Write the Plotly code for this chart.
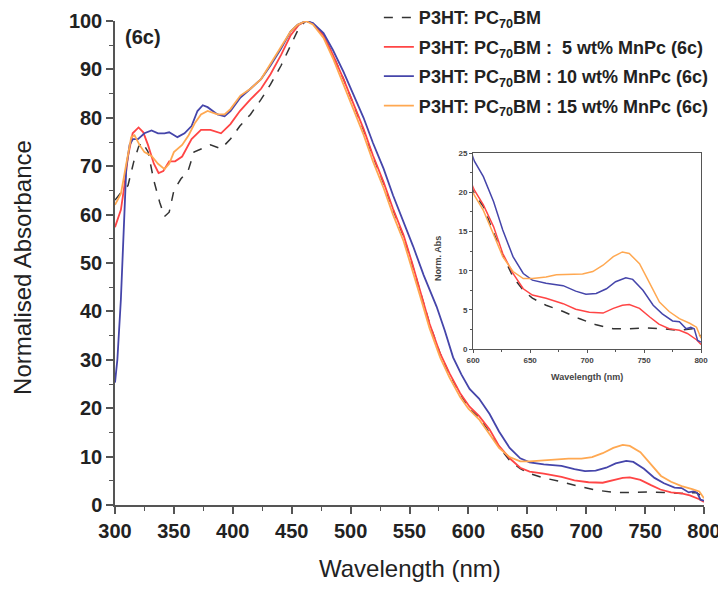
import plotly.graph_objects as go

# ---------------- data ----------------
wl_ref = [300, 305, 311, 316, 320, 323, 328, 333, 338, 342, 346, 350, 356, 362, 367, 373, 381, 390, 398,
          406, 415, 424, 432, 441, 449, 456, 462, 468, 477, 485, 494, 502, 511, 519, 528, 536, 545, 552,
          559, 567, 576, 584, 593, 601, 609, 617, 626, 635, 644, 652, 664, 679, 693, 708, 723, 737, 752,
          766, 781, 793, 797, 800]
abs_ref = [63, 64.5, 66, 71, 74, 75, 73, 67, 62.5, 59.6, 60.5, 65, 67.4, 69, 72.9, 73.6, 74.4, 73.6, 75.6,
           78.3, 80.7, 83.8, 86.9, 90.8, 95, 98.5, 100, 99.5, 97, 93, 88, 83, 77.5, 72, 66.5, 61, 55.5, 50,
           44.2, 37.5, 31.3, 27, 23, 19.8, 18.2, 15.2, 12, 9.2, 7.5, 6.5, 5.6, 4.8, 3.9, 3.1, 2.6, 2.6, 2.7,
           2.6, 2.4, 2.6, 2.0, 1.6]

wl_5 = [300, 305, 308, 311, 315, 320, 324, 328, 333, 337, 341, 346, 351, 357, 365, 373, 381, 390, 398,
        406, 415, 424, 432, 441, 449, 456, 462, 468, 477, 485, 494, 502, 511, 519, 528, 536, 545, 552,
        559, 567, 576, 584, 593, 601, 609, 618, 626, 635, 644, 652, 664, 679, 690, 702, 714, 723, 731,
        737, 746, 755, 763, 772, 781, 788, 796, 800]
abs_5 = [57.4, 61, 66, 72, 76.8, 78, 77, 74.4, 70.5, 68.6, 69, 71, 71, 72, 75.6, 77.5, 77.5, 76.8, 78.7,
         81.4, 83.8, 86, 89, 93, 97, 99.2, 100, 99.5, 97, 93, 88, 83, 77.7, 72.2, 66.7, 61.2, 55.7, 50.2,
         44.4, 37.5, 31.3, 27.2, 23.1, 20.3, 18.4, 15.6, 12.2, 9.65, 7.7, 6.9, 6.5, 5.8, 5.1, 4.7, 4.6, 5.2,
         5.6, 5.7, 5.2, 4.1, 3.2, 2.6, 2.4, 2.0, 1.2, 0.6]

wl_10 = [300, 302, 305, 307.6, 309.6, 312.4, 315.3, 319.5, 325, 331, 336.5, 342, 346, 353, 359, 365, 370,
         374.5, 378.6, 387, 393, 398, 406.5, 415, 424, 432, 441, 449, 455, 462, 468, 477, 485, 494, 502,
         511, 519, 528, 536, 545, 553, 562, 573, 580, 587, 594, 601, 609, 618, 626, 635, 644, 652, 664,
         679, 690, 699, 708, 717, 725, 734, 740, 749, 758, 766, 775, 781, 787, 791, 794, 797, 800]
abs_10 = [25.3, 30, 42.5, 58, 69.8, 74.4, 75.6, 75.6, 76.8, 77.4, 76.8, 76.8, 77, 76, 76.8, 78.3, 81.4,
          82.6, 82.2, 80.7, 80.3, 81.4, 84.2, 86, 88, 90.8, 94.3, 97.8, 99.2, 100, 99.6, 97.5, 94, 89.5, 85,
          80, 74.8, 69.5, 64, 58.5, 53.5, 47.5, 41, 36, 30.5, 27, 24, 22, 18.8, 15.2, 11.8, 9.65, 8.8, 8.4,
          8.1, 7.4, 7.0, 7.1, 7.7, 8.6, 9.1, 8.9, 7.5, 5.6, 4.5, 3.6, 3.5, 2.6, 2.8, 2.6, 1.1, 0.9]

wl_15 = [300, 305, 309.6, 313.8, 316.6, 320.8, 325, 331, 336.5, 342, 346, 350, 357, 362.5, 368, 373, 378.6,
         387, 393, 398, 406.5, 415, 424, 432, 441, 449, 455, 462, 468, 477, 485, 494, 502, 511, 519, 528,
         536, 545, 552, 559, 567, 576, 584, 593, 600, 609, 617.5, 626, 635, 644, 652, 664, 673, 685, 696,
         705, 714, 723, 731, 737, 746, 755, 763.5, 772, 781, 790, 796, 800]
abs_15 = [62, 64.3, 70.5, 76, 76.4, 74.4, 72.9, 72.1, 70.5, 69.4, 70.5, 72.9, 74.4, 76.4, 79, 80.7, 81.4,
          80.7, 80.7, 81.8, 84.6, 86, 88, 91.2, 94.7, 97.8, 99.2, 100, 99.3, 96.5, 92.3, 87, 82, 76.5, 71,
          65.5, 60, 54.5, 49, 43.2, 36.5, 30.5, 26.3, 22.3, 19.9, 17.7, 14.8, 11.8, 9.9, 9.0, 9.0, 9.2, 9.5,
          9.6, 9.6, 9.9, 10.7, 11.8, 12.4, 12.2, 10.9, 8.4, 6.0, 4.8, 3.9, 3.3, 2.8, 1.4]

series_names = ["P3HT: PC<sub>70</sub>BM",
                "P3HT: PC<sub>70</sub>BM :  5 wt% MnPc (6c)",
                "P3HT: PC<sub>70</sub>BM : 10 wt% MnPc (6c)",
                "P3HT: PC<sub>70</sub>BM : 15 wt% MnPc (6c)"]
series_x = [wl_ref, wl_5, wl_10, wl_15]
series_y = [abs_ref, abs_5, abs_10, abs_15]
colors = ["#333333", "#FF4545", "#4545AA", "#FFA851"]
dashes = ["dash", "solid", "solid", "solid"]

x_ticks = [300, 350, 400, 450, 500, 550, 600, 650, 700, 750, 800]
y_ticks = [0, 10, 20, 30, 40, 50, 60, 70, 80, 90, 100]
inset_x_ticks = [600, 650, 700, 750, 800]
inset_y_ticks = [0, 5, 10, 15, 20, 25]

# ---------------- figure ----------------
fig = go.Figure()
for i, (name, xs, ys, c, d) in enumerate(zip(series_names, series_x, series_y, colors, dashes)):
    fig.add_trace(go.Scatter(x=xs, y=ys, mode="lines", name=name, legendgroup=f"g{i}",
                             line=dict(color=c, width=1.8 if d == "solid" else 1.5, dash=d),
                             xaxis="x", yaxis="y"))
for i, (name, xs, ys, c, d) in enumerate(zip(series_names, series_x, series_y, colors, dashes)):
    fig.add_trace(go.Scatter(x=xs, y=ys, mode="lines", name=name, showlegend=False,
                             legendgroup=f"g{i}",
                             line=dict(color=c, width=1.5, dash=d),
                             xaxis="x2", yaxis="y2"))

axis_col = "#555555"
txt_col = "#222222"
fnt = "Liberation Sans, Arial, sans-serif"

fig.update_layout(
    width=718, height=581,
    margin=dict(l=107, r=22, t=13, b=84, autoexpand=False),
    paper_bgcolor="white", plot_bgcolor="white",
    font=dict(family=fnt, color=txt_col),
    showlegend=True,
    legend=dict(x=0.448, y=1.045, xref="paper", yref="paper", xanchor="left", yanchor="top",
                bgcolor="rgba(0,0,0,0)", tracegroupgap=3,
                font=dict(size=18, family=fnt, color=txt_col, weight="bold")),
    xaxis=dict(range=[300, 800], domain=[0, 1], tickvals=x_ticks, showgrid=False, zeroline=False,
               automargin=False,
               showline=True, linecolor=axis_col, linewidth=1.5,
               ticks="outside", ticklen=7, tickwidth=1.5, tickcolor=axis_col,
               minor=dict(dtick=25, tick0=300, ticks="outside", ticklen=4, tickwidth=1.2, tickcolor=axis_col),
               tickfont=dict(size=20, family=fnt, color=txt_col, weight="bold")),
    yaxis=dict(range=[0, 100], domain=[0, 1], tickvals=y_ticks, showgrid=False, zeroline=False,
               automargin=False,
               showline=True, linecolor=axis_col, linewidth=1.5,
               ticks="outside", ticklen=7, tickwidth=1.5, tickcolor=axis_col,
               minor=dict(dtick=5, tick0=0, ticks="outside", ticklen=4, tickwidth=1.2, tickcolor=axis_col),
               tickfont=dict(size=20, family=fnt, color=txt_col, weight="bold")),
    xaxis2=dict(range=[600, 800], domain=[0.608, 0.995], anchor="y2", tickvals=inset_x_ticks,
                automargin=False,
                showgrid=False, zeroline=False, showline=True, mirror=True,
                linecolor=axis_col, linewidth=1.2, ticks="outside", ticklen=3, tickcolor=axis_col,
                minor=dict(dtick=25, tick0=600, ticks="outside", ticklen=2, tickcolor=axis_col),
                tickfont=dict(size=8, family=fnt, color="#444444", weight="bold")),
    yaxis2=dict(range=[0, 25], domain=[0.322, 0.727], anchor="x2", tickvals=inset_y_ticks,
                automargin=False,
                showgrid=False, zeroline=False, showline=True, mirror=True,
                linecolor=axis_col, linewidth=1.2, ticks="outside", ticklen=3, tickcolor=axis_col,
                minor=dict(dtick=2.5, tick0=0, ticks="outside", ticklen=2, tickcolor=axis_col),
                tickfont=dict(size=8, family=fnt, color="#444444", weight="bold")),
    annotations=[
        dict(text="(6c)", xref="paper", yref="paper", x=0.014, y=0.966,
             xanchor="left", yanchor="middle", showarrow=False,
             font=dict(size=20, family=fnt, color=txt_col, weight="bold")),
        dict(text="Normalised Absorbance", xref="paper", yref="paper", x=-0.156, y=0.49,
             xanchor="center", yanchor="middle", textangle=-90, showarrow=False,
             font=dict(size=24, family=fnt, color=txt_col)),
        dict(text="Wavelength (nm)", xref="paper", yref="paper", x=0.5, y=-0.132,
             xanchor="center", yanchor="middle", showarrow=False,
             font=dict(size=24, family=fnt, color=txt_col)),
        dict(text="Norm. Abs", xref="paper", yref="paper", x=0.548, y=0.51,
             xanchor="center", yanchor="middle", textangle=-90, showarrow=False,
             font=dict(size=9, family=fnt, color="#444444", weight="bold")),
        dict(text="Wavelength (nm)", xref="paper", yref="paper", x=0.801, y=0.264,
             xanchor="center", yanchor="middle", showarrow=False,
             font=dict(size=9, family=fnt, color="#444444", weight="bold")),
    ],
)

fig.write_html("out.html")
